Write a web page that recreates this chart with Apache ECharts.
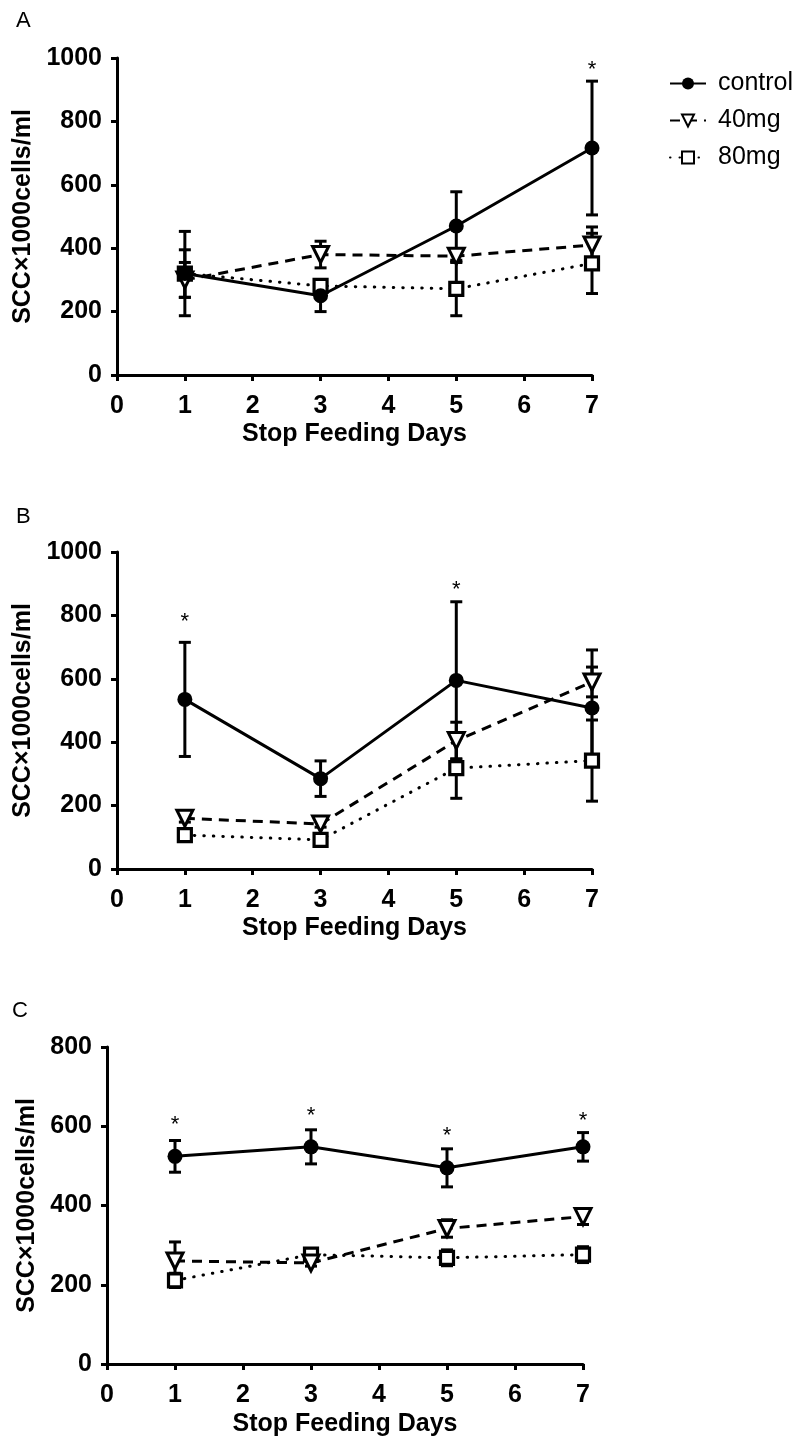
<!DOCTYPE html>
<html>
<head>
<meta charset="utf-8">
<script src="https://cdn.jsdelivr.net/npm/echarts@6/dist/echarts.min.js"></script>
<style>
html,body{margin:0;padding:0;background:#fff;}
#main{width:801px;height:1445px;}
</style>
</head>
<body>
<div id="main"></div>
<script>
// ---- data ----
var days = [1, 3, 5, 7];
var xTicks = [0, 1, 2, 3, 4, 5, 6, 7];
var seriesNames = ['control', '40mg', '80mg'];
var panelLabels = ['A', 'B', 'C'];
var xTitle = 'Stop Feeding Days';
var yTitle = 'SCC×1000cells/ml';

// Panel A
var A_control = [320, 250, 470, 716];
var A_control_err = [133, 50, 108, 211];
var A_40mg = [300, 380, 375, 410];
var A_40mg_err = [55, 42, 20, 57];
var A_80mg = [320, 281, 272, 352];
var A_80mg_err = [75, 20, 85, 95];
var A_stars = [[7, 972]];

// Panel B
var B_control = [535, 285, 595, 508];
var B_control_err = [180, 56, 248, 183];
var B_40mg = [160, 142, 405, 590];
var B_40mg_err = [12, 10, 58, 47];
var B_80mg = [107, 92, 318, 342];
var B_80mg_err = [15, 10, 95, 128];
var B_stars = [[1, 790], [5, 890]];

// Panel C
var C_control = [524, 548, 495, 548];
var C_control_err = [40, 43, 48, 36];
var C_40mg = [260, 255, 342, 372];
var C_40mg_err = [48, 8, 22, 20];
var C_80mg = [211, 276, 268, 276];
var C_80mg_err = [18, 15, 20, 20];
var C_stars = [[1, 610], [3, 633], [5, 582], [7, 620]];

var yMax = [1000, 1000, 800];
var yInterval = 200;

// ---- build ----
var FONT = '"Liberation Sans", Arial, Helvetica, sans-serif';
var panels = [
  {ctrl: A_control, ctrlE: A_control_err, m40: A_40mg, m40E: A_40mg_err, m80: A_80mg, m80E: A_80mg_err, stars: A_stars},
  {ctrl: B_control, ctrlE: B_control_err, m40: B_40mg, m40E: B_40mg_err, m80: B_80mg, m80E: B_80mg_err, stars: B_stars},
  {ctrl: C_control, ctrlE: C_control_err, m40: C_40mg, m40E: C_40mg_err, m80: C_80mg, m80E: C_80mg_err, stars: C_stars}
];
var grids = [
  {left: 117, top: 58, width: 475, height: 317},
  {left: 117, top: 552, width: 475, height: 317},
  {left: 107, top: 1047, width: 476, height: 317}
];

var LW = 3;
var axisLine = {lineStyle: {color: '#000', width: LW}};
var axisTick = {show: true, inside: false, length: 6, lineStyle: {color: '#000', width: LW}};
var lbl = {color: '#000', fontSize: 25, fontWeight: 'bold', fontFamily: FONT};

var xAxes = [], yAxes = [], series = [];

function zip(vals) { return days.map(function (d, i) { return [d, vals[i]]; }); }
function zipErr(vals, errs) { return days.map(function (d, i) { return [d, vals[i], errs[i]]; }); }

function errorSeries(gi, data) {
  return {
    type: 'custom', xAxisIndex: gi, yAxisIndex: gi, z: 3, silent: true,
    data: data,
    renderItem: function (params, api) {
      var x = api.value(0), m = api.value(1), e = api.value(2);
      var top = api.coord([x, m + e]);
      var bot = api.coord([x, m - e]);
      var cw = 6;
      var st = {stroke: '#000', lineWidth: LW, fill: null};
      return {
        type: 'group',
        children: [
          {type: 'line', shape: {x1: top[0], y1: top[1], x2: bot[0], y2: bot[1]}, style: st},
          {type: 'line', shape: {x1: top[0] - cw, y1: top[1], x2: top[0] + cw, y2: top[1]}, style: st},
          {type: 'line', shape: {x1: bot[0] - cw, y1: bot[1], x2: bot[0] + cw, y2: bot[1]}, style: st}
        ]
      };
    }
  };
}

panels.forEach(function (p, gi) {
  xAxes.push({
    type: 'value', gridIndex: gi, min: 0, max: 7, interval: 1,
    axisLine: axisLine, axisTick: axisTick, splitLine: {show: false},
    axisLabel: Object.assign({margin: 19, formatter: function (v) { return xTicks.indexOf(v) >= 0 ? String(v) : ''; }}, lbl),
    name: xTitle, nameLocation: 'middle', nameGap: gi === 2 ? 48 : 47,
    nameTextStyle: {color: '#000', fontSize: 25, fontWeight: 'bold', fontFamily: FONT}
  });
  yAxes.push({
    type: 'value', gridIndex: gi, min: 0, max: yMax[gi], interval: yInterval,
    axisLine: Object.assign({show: true}, axisLine), axisTick: axisTick, splitLine: {show: false},
    axisLabel: Object.assign({margin: 15, formatter: function (v) { return String(v); }}, lbl),
    name: yTitle, nameLocation: 'middle', nameGap: gi === 2 ? 66 : 73,
    nameTextStyle: {color: '#000', fontSize: 25, fontWeight: 'bold', fontFamily: FONT}
  });

  series.push(errorSeries(gi, zipErr(p.m80, p.m80E)));
  series.push(errorSeries(gi, zipErr(p.m40, p.m40E)));
  series.push(errorSeries(gi, zipErr(p.ctrl, p.ctrlE)));

  series.push({
    name: '80mg', type: 'line', xAxisIndex: gi, yAxisIndex: gi, data: zip(p.m80), z: 4,
    symbol: 'rect', symbolSize: 13,
    lineStyle: {color: '#000', width: 3, type: [0.5, 9], cap: 'round'},
    itemStyle: {color: '#fff', borderColor: '#000', borderWidth: 3.2},
    emphasis: {disabled: true}, animation: false
  });
  series.push({
    name: '40mg', type: 'line', xAxisIndex: gi, yAxisIndex: gi, data: zip(p.m40), z: 5,
    symbol: 'triangle', symbolRotate: 180, symbolSize: 16,
    lineStyle: {color: '#000', width: LW, type: [10, 7]},
    itemStyle: {color: '#fff', borderColor: '#000', borderWidth: LW},
    emphasis: {disabled: true}, animation: false
  });
  series.push({
    name: 'control', type: 'line', xAxisIndex: gi, yAxisIndex: gi, data: zip(p.ctrl), z: 6,
    symbol: 'circle', symbolSize: 15,
    lineStyle: {color: '#000', width: LW, type: 'solid'},
    itemStyle: {color: '#000', borderColor: '#000', borderWidth: 0},
    emphasis: {disabled: true}, animation: false
  });

  series.push({
    type: 'custom', xAxisIndex: gi, yAxisIndex: gi, z: 7, silent: true,
    data: p.stars,
    renderItem: function (params, api) {
      var pt = api.coord([api.value(0), api.value(1)]);
      return {type: 'text', x: pt[0], y: pt[1] + 3,
        style: {text: '*', fill: '#000', font: '22px ' + FONT, align: 'center', verticalAlign: 'middle'}};
    }
  });
});

var chart = echarts.init(document.getElementById('main'), null, {renderer: 'canvas'});
chart.setOption({
  animation: false,
  backgroundColor: '#fff',
  grid: grids,
  xAxis: xAxes,
  yAxis: yAxes,
  legend: {
    data: seriesNames, orient: 'vertical', left: 664, top: 66,
    itemWidth: 36, itemHeight: 15, itemGap: 12,
    textStyle: {color: '#000', fontSize: 25, fontFamily: FONT, padding: [0, 0, 0, 7]},
    selectedMode: false
  },
  graphic: [
    {type: 'text', left: 16, top: 10, style: {text: panelLabels[0], font: '22px ' + FONT, fill: '#000'}},
    {type: 'text', left: 16, top: 506, style: {text: panelLabels[1], font: '22px ' + FONT, fill: '#000'}},
    {type: 'text', left: 12, top: 1000, style: {text: panelLabels[2], font: '22px ' + FONT, fill: '#000'}}
  ],
  series: series
});
</script>
</body>
</html>
